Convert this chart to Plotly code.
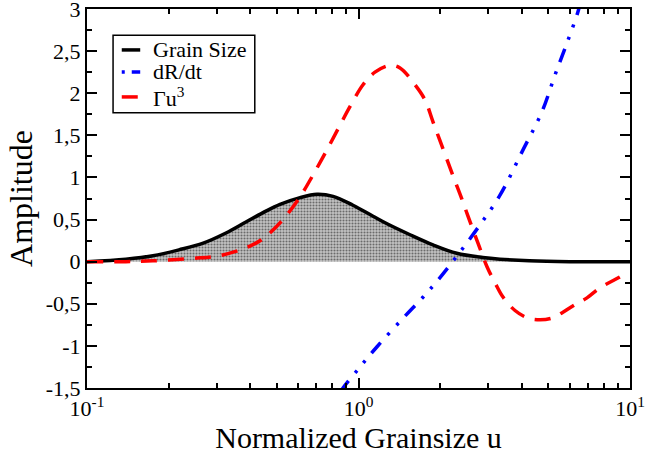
import plotly.graph_objects as go

# Grain size distribution
grain_u = [0.1, 0.139, 0.175, 0.218, 0.268, 0.325, 0.385, 0.456, 0.514, 0.609,
           0.703, 0.806, 0.954, 1.131, 1.274, 1.548, 1.88, 2.30, 2.87,
           3.32, 4.26, 6.0, 10.0]
grain_y = [0.0, 0.03, 0.07, 0.14, 0.22, 0.34, 0.47, 0.60, 0.68, 0.76,
           0.80, 0.775, 0.67, 0.54, 0.45, 0.32, 0.20, 0.10, 0.05,
           0.03, 0.01, 0.0, 0.0]

# dR/dt
drdt_u = [0.86, 0.877, 1.013, 1.17, 1.46, 1.73, 1.96, 2.32, 2.75, 3.32,
          4.04, 4.74, 5.30, 5.91, 6.38, 6.5]
drdt_y = [-1.55, -1.5, -1.25, -1.01, -0.67, -0.42, -0.22, 0.08, 0.40, 0.79,
          1.33, 1.78, 2.22, 2.63, 2.93, 3.02]

# Gamma u^3
gam_u = [0.1, 0.139, 0.175, 0.246, 0.306, 0.375, 0.419, 0.456, 0.527, 0.609,
         0.680, 0.766, 0.855, 0.930, 1.039, 1.150, 1.306, 1.422, 1.615, 1.758,
         1.881, 2.048, 2.229, 2.405, 2.531, 2.755, 2.974, 3.183, 3.406, 3.771,
         4.210, 4.661, 5.162, 5.665, 6.272, 6.944, 7.753, 9.188, 9.5]
gam_y = [0.0, 0.0, 0.01, 0.04, 0.07, 0.15, 0.22, 0.30, 0.50, 0.77,
         1.03, 1.33, 1.62, 1.84, 2.10, 2.25, 2.33, 2.30, 2.10, 1.92,
         1.66, 1.34, 1.02, 0.74, 0.54, 0.22, -0.06, -0.25, -0.42, -0.58,
         -0.67, -0.69, -0.67, -0.60, -0.51, -0.43, -0.31, -0.18, -0.15]

series_names = ["Grain Size", "dR/dt", "Γu<sup>3</sup>"]

y_tickvals = [-1.5, -1, -0.5, 0, 0.5, 1, 1.5, 2, 2.5, 3]
y_ticktext = ["-1,5", "-1", "-0,5", "0", "0,5", "1", "1,5", "2", "2,5", "3"]
x_tickvals = [0.1, 1, 10]
x_ticktext = ["10<sup>-1</sup>", "10<sup>0</sup>", "10<sup>1</sup>"]
x_minor_vals = [0.2, 0.3, 0.4, 0.5, 0.6, 0.7, 0.8, 0.9, 2, 3, 4, 5, 6, 7, 8, 9]

FONT = "Liberation Serif, Times New Roman, Times, serif"

colors = ["black", "#0000ff", "#ff0000"]
dashes = ["solid", "14px,10px,3px,10px,3px,10px", "16px,11px"]
legend_dashes = ["solid", "3px,7px,12px,30px", "16px,4px"]

fig = go.Figure()
fig.add_trace(go.Scatter(
    x=grain_u, y=grain_y, mode="lines", name=series_names[0], showlegend=False,
    line=dict(color=colors[0], width=3.5, shape="spline"),
    fill="tozeroy", fillcolor="#bdbdbd",
    fillpattern=dict(shape=".", fgcolor="#111111", bgcolor="#c4c4c4", size=3, solidity=0.4),
))
fig.add_trace(go.Scatter(
    x=drdt_u, y=drdt_y, mode="lines", name=series_names[1], showlegend=False,
    line=dict(color=colors[1], width=3.5, shape="spline", dash=dashes[1]),
))
fig.add_trace(go.Scatter(
    x=gam_u, y=gam_y, mode="lines", name=series_names[2], showlegend=False,
    line=dict(color=colors[2], width=3.5, shape="spline", dash=dashes[2]),
))

axis_common = dict(
    showline=True, linecolor="black", linewidth=2, mirror="ticks",
    ticks="inside", ticklen=10, tickwidth=2, tickcolor="black",
    showgrid=False, zeroline=False, ticklabeloverflow="allow", automargin=False,
    tickfont=dict(family=FONT, size=22, color="black"),
)

fig.update_xaxes(
    type="log", range=[-1, 1], tickvals=x_tickvals, ticktext=x_ticktext,
    minor=dict(tickmode="array", tickvals=x_minor_vals, ticks="inside", ticklen=5,
               tickwidth=1.5, tickcolor="black", showgrid=False),
    title=dict(text="Normalized Grainsize u", font=dict(family=FONT, size=30, color="black"), standoff=4),
    **axis_common,
)
fig.update_yaxes(
    range=[-1.5, 3], tickvals=y_tickvals, ticktext=y_ticktext,
    minor=dict(ticks="inside", ticklen=5, tickwidth=1.5, tickcolor="black", dtick=0.25,
               tick0=0, showgrid=False),
    title=dict(text="Amplitude", font=dict(family=FONT, size=32, color="black"), standoff=4),
    **axis_common,
)

# Legend drawn as a framed box with line samples and labels (paper coordinates)
box_x0, box_x1, box_y0, box_y1 = 0.048, 0.309, 0.726, 0.931
row_y = [0.892, 0.834, 0.768]
sample_x0, sample_x1, text_x = 0.064, 0.098, 0.118
shapes = [dict(type="rect", xref="paper", yref="paper", x0=box_x0, x1=box_x1,
               y0=box_y0, y1=box_y1, line=dict(color="black", width=1.5),
               fillcolor="white", layer="above")]
annotations = []
for name, col, dsh, ry in zip(series_names, colors, legend_dashes, row_y):
    shapes.append(dict(type="line", xref="paper", yref="paper", x0=sample_x0, x1=sample_x1,
                       y0=ry, y1=ry, line=dict(color=col, width=3.5, dash=dsh), layer="above"))
    annotations.append(dict(xref="paper", yref="paper", x=text_x, y=ry, text=name,
                            showarrow=False, xanchor="left", yanchor="middle",
                            font=dict(family=FONT, size=22, color="black")))

fig.update_layout(
    width=670, height=456,
    margin=dict(l=87, r=40, t=9, b=68),
    paper_bgcolor="white", plot_bgcolor="white",
    font=dict(family=FONT, color="black"),
    showlegend=False,
    shapes=shapes, annotations=annotations,
)

fig.write_html("out.html",
               config={"displayModeBar": False},
               post_script="document.body.style.margin='0';document.body.style.overflow='hidden';")
